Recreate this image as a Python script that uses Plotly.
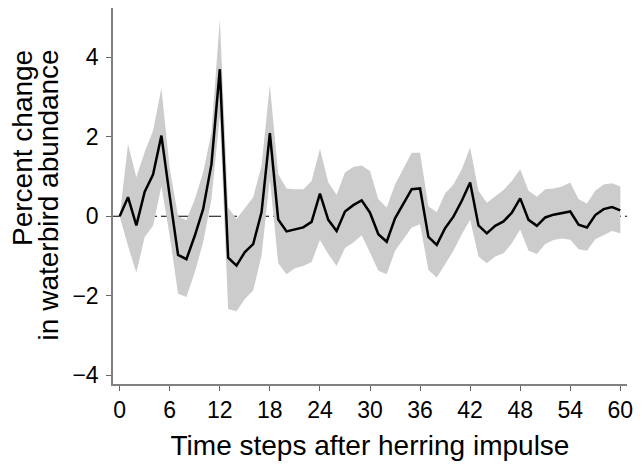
import plotly.graph_objects as go

steps = list(range(0, 61))
response = [0.0, 0.48, -0.23, 0.62, 1.05, 2.03, 0.5, -0.97, -1.08, -0.49, 0.18, 1.31, 3.70,
            -1.04, -1.24, -0.90, -0.70, 0.10, 2.09, -0.08, -0.38, -0.33, -0.28, -0.14, 0.57,
            -0.09, -0.37, 0.12, 0.28, 0.40, 0.09, -0.45, -0.64, -0.05, 0.33, 0.68, 0.70,
            -0.52, -0.72, -0.30, -0.01, 0.39, 0.85, -0.23, -0.43, -0.24, -0.13, 0.09, 0.45,
            -0.09, -0.24, -0.03, 0.04, 0.08, 0.12, -0.21, -0.28, 0.03, 0.18, 0.23, 0.15]
upper = [0.0, 1.81, 0.98, 1.62, 2.15, 3.22, 1.2, 0.0, -0.1, 0.43, 1.1, 2.11, 4.96,
         0.22, -0.07, 0.22, 0.48, 1.27, 3.30, 1.06, 0.70, 0.68, 0.68, 0.89, 1.70,
         0.85, 0.54, 1.10, 1.24, 1.28, 1.14, 0.43, 0.22, 0.80, 1.22, 1.60, 1.60,
         0.25, 0.10, 0.57, 0.80, 1.18, 1.73, 0.64, 0.34, 0.51, 0.66, 0.89, 1.18,
         0.64, 0.49, 0.68, 0.70, 0.75, 0.85, 0.43, 0.32, 0.64, 0.80, 0.83, 0.75]
lower = [0.0, -0.75, -1.42, -0.52, -0.24, 0.76, -0.5, -1.95, -2.03, -1.41, -0.66, 0.43, 2.53,
         -2.33, -2.39, -2.08, -1.87, -0.99, 0.94, -1.18, -1.46, -1.31, -1.25, -1.15, -0.60,
         -0.95, -1.25, -0.80, -0.66, -0.48, -0.91, -1.37, -1.46, -0.87, -0.58, -0.28, -0.20,
         -1.35, -1.54, -1.21, -0.87, -0.45, -0.09, -1.01, -1.18, -1.01, -0.93, -0.68, -0.33,
         -0.87, -0.95, -0.70, -0.60, -0.56, -0.59, -0.83, -0.87, -0.58, -0.48, -0.37, -0.43]

x_ticks = [0, 6, 12, 18, 24, 30, 36, 42, 48, 54, 60]
y_ticks = [-4, -2, 0, 2, 4]
x_title = "Time steps after herring impulse"
y_title_lines = ["Percent change", "in waterbird abundance"]

FONT = "Liberation Sans, Arial, sans-serif"
L, R, T, B = 113, 13, 8, 78
PW, PH = 641 - L - R, 464 - T - B

fig = go.Figure()
fig.add_trace(go.Scatter(x=steps, y=lower, mode="lines", line=dict(width=0, color="#cccccc"),
                         showlegend=False, hoverinfo="skip"))
fig.add_trace(go.Scatter(x=steps, y=upper, mode="lines", line=dict(width=0, color="#cccccc"),
                         fill="tonexty", fillcolor="#cccccc", showlegend=False, hoverinfo="skip"))
fig.add_trace(go.Scatter(x=steps, y=response, mode="lines", line=dict(width=2.5, color="black"),
                         showlegend=False))

fig.add_shape(type="line", xref="paper", x0=0, x1=1, yref="y", y0=0, y1=0,
              line=dict(color="black", width=1.2, dash="12px,4px"), layer="below")

# y-axis title: two right-aligned rotated lines
for cx, txt in zip([23, 48], y_title_lines):
    fig.add_annotation(text=txt, textangle=-90, xref="paper", yref="paper",
                       x=(cx - L) / PW, xanchor="center",
                       y=(464 - B - 48) / PH, yanchor="top",
                       showarrow=False, font=dict(size=28, family=FONT, color="black"))

fig.update_layout(
    width=641, height=464,
    margin=dict(l=L, r=R, t=T, b=B),
    plot_bgcolor="white", paper_bgcolor="white",
    font=dict(family=FONT, size=23, color="black"),
    xaxis=dict(range=[-0.8, 60.8], tickvals=x_ticks, ticks="outside", ticklen=5,
               tickcolor="#666666", showline=True, linecolor="#808080", linewidth=1.5,
               showgrid=False, zeroline=False, tickfont=dict(size=23),
               title=dict(text=x_title, font=dict(size=28), standoff=13)),
    yaxis=dict(range=[-4.22, 5.24], tickvals=y_ticks, ticks="outside", ticklen=5,
               tickcolor="#666666", showline=True, linecolor="#808080", linewidth=1.5,
               showgrid=False, zeroline=False, tickfont=dict(size=23), ticklabelstandoff=3),
)

fig.write_html("out.html")
